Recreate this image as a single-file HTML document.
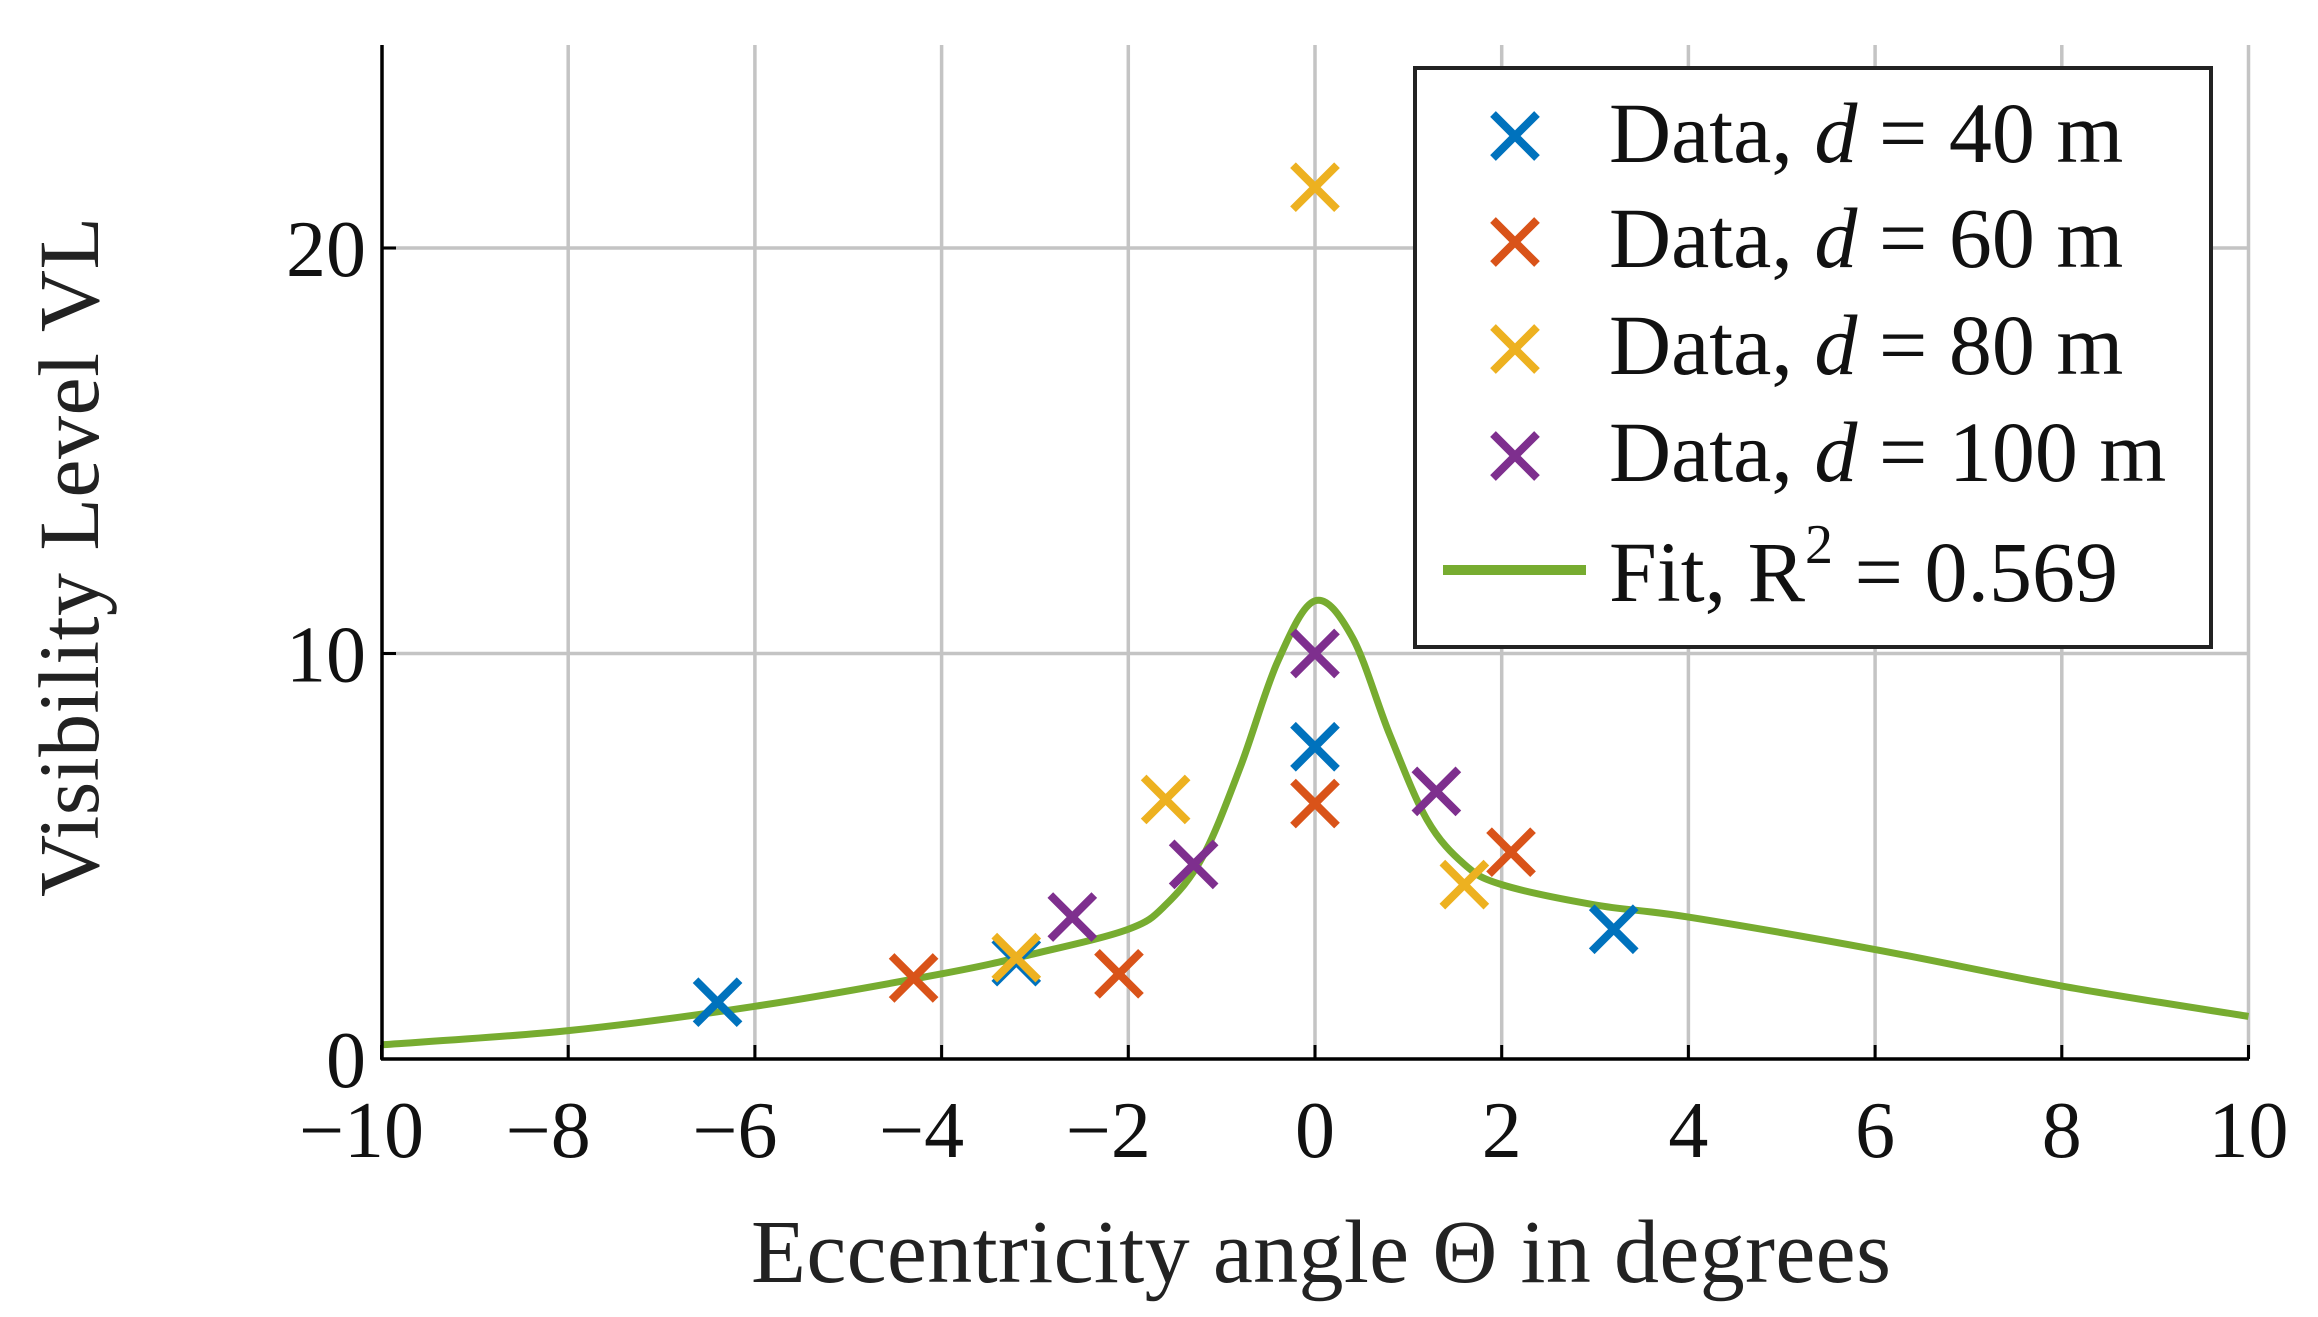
<!DOCTYPE html>
<html><head><meta charset="utf-8"><style>
html,body{margin:0;padding:0;background:#fff;}
svg{display:block;font-family:"Liberation Serif",serif;}
</style></head><body>
<svg id="s" width="2318" height="1317" viewBox="0 0 2318 1317" xmlns="http://www.w3.org/2000/svg">
<g id="grid" stroke="#c4c4c4" stroke-width="3.5"></g>
<path id="fit" fill="none" stroke="#77ac30" stroke-width="7"></path>
<g id="marks" stroke-width="8" fill="none"></g>
<g stroke="#000" stroke-width="3.5" fill="none">
<line x1="382" y1="45" x2="382" y2="1060"/>
<line x1="381" y1="1059" x2="2249" y2="1059"/>
</g>
<g id="ticks" font-size="80" fill="#111"></g>
<text x="1321" y="1282" font-size="90" text-anchor="middle" fill="#222" textLength="1140">Eccentricity angle Θ in degrees</text>
<text transform="translate(98,557) rotate(-90)" font-size="86" text-anchor="middle" fill="#222" textLength="680">Visibility Level VL</text>
<rect x="1415" y="68" width="796" height="579" fill="#fff" stroke="#222" stroke-width="4"/>
<g font-size="86" fill="#111">
<text x="1609" y="162">Data, <tspan font-style="italic">d</tspan> = 40 m</text>
<text x="1609" y="267">Data, <tspan font-style="italic">d</tspan> = 60 m</text>
<text x="1609" y="374">Data, <tspan font-style="italic">d</tspan> = 80 m</text>
<text x="1609" y="481">Data, <tspan font-style="italic">d</tspan> = 100 m</text>
<text x="1609" y="601">Fit, R<tspan font-size="56" dy="-38">2</tspan><tspan dy="38"> = 0.569</tspan></text>
</g>
<line x1="1443" y1="570" x2="1586" y2="570" stroke="#77ac30" stroke-width="10"/>
<g id="leg" stroke-width="8"></g>
</svg>
<script>
const X=x=>1315+x*93.35, Y=y=>1059-y*40.55;
const ns="http://www.w3.org/2000/svg";
function el(p,t,a,txt){const e=document.createElementNS(ns,t);for(const k in a)e.setAttribute(k,a[k]);if(txt!=null)e.textContent=txt;document.getElementById(p).appendChild(e);return e;}
for(let x=-8;x<=10;x+=2)el("grid","line",{x1:X(x),y1:45,x2:X(x),y2:1059});
for(const y of [10,20])el("grid","line",{x1:382,y1:Y(y),x2:2249,y2:Y(y)});
for(let x=-10;x<=10;x+=2){el("ticks","text",{x:X(x)+(x<0?-20:0),y:1157,"text-anchor":"middle"},(x<0?"−":"")+Math.abs(x));el("ticks","line",{x1:X(x),y1:1059,x2:X(x),y2:1045,stroke:"#000","stroke-width":3});}
for(const y of [0,10,20]){el("ticks","text",{x:366,y:Y(y)+28,"text-anchor":"end"},y);el("ticks","line",{x1:382,y1:Y(y),x2:396,y2:Y(y),stroke:"#000","stroke-width":3});}
const P=[[-10,0.35],[-8,0.7],[-6,1.3],[-4,2.1],[-3,2.6],[-2,3.2],[-1.6,3.8],[-1.2,5.0],[-0.8,7.2],[-0.4,9.8],[0,11.3],[0.4,10.4],[0.8,8.0],[1.2,5.9],[1.6,4.8],[2,4.3],[3,3.8],[4,3.5],[6,2.7],[8,1.8],[10,1.05]].map(p=>[X(p[0]),Y(p[1])]);
let d="M"+P[0][0]+","+P[0][1];
for(let i=0;i<P.length-1;i++){const p0=P[Math.max(0,i-1)],p1=P[i],p2=P[i+1],p3=P[Math.min(P.length-1,i+2)];
d+=` C${p1[0]+(p2[0]-p0[0])/6},${p1[1]+(p2[1]-p0[1])/6} ${p2[0]-(p3[0]-p1[0])/6},${p2[1]-(p3[1]-p1[1])/6} ${p2[0]},${p2[1]}`;}
document.getElementById("fit").setAttribute("d",d);
const C=["#0072bd","#d95319","#edb120","#7e2f8e"];
const D=[[[-6.4,1.4],[-3.2,2.4],[0,7.7],[3.2,3.2]],[[-4.3,2.0],[-2.1,2.1],[0,6.3],[2.1,5.1]],[[-3.2,2.5],[-1.6,6.4],[0,21.5],[1.6,4.3]],[[-2.6,3.5],[-1.3,4.8],[0,10],[1.3,6.6]]];
function cross(g,cx,cy,c,r){el(g,"path",{d:`M${cx-r},${cy-r}L${cx+r},${cy+r}M${cx-r},${cy+r}L${cx+r},${cy-r}`,stroke:c});}
D.forEach((s,i)=>s.forEach(p=>cross("marks",X(p[0]),Y(p[1]),C[i],22)));
[136,242,349,456].forEach((y,i)=>cross("leg",1515,y,C[i],22));
</script>
</body></html>
